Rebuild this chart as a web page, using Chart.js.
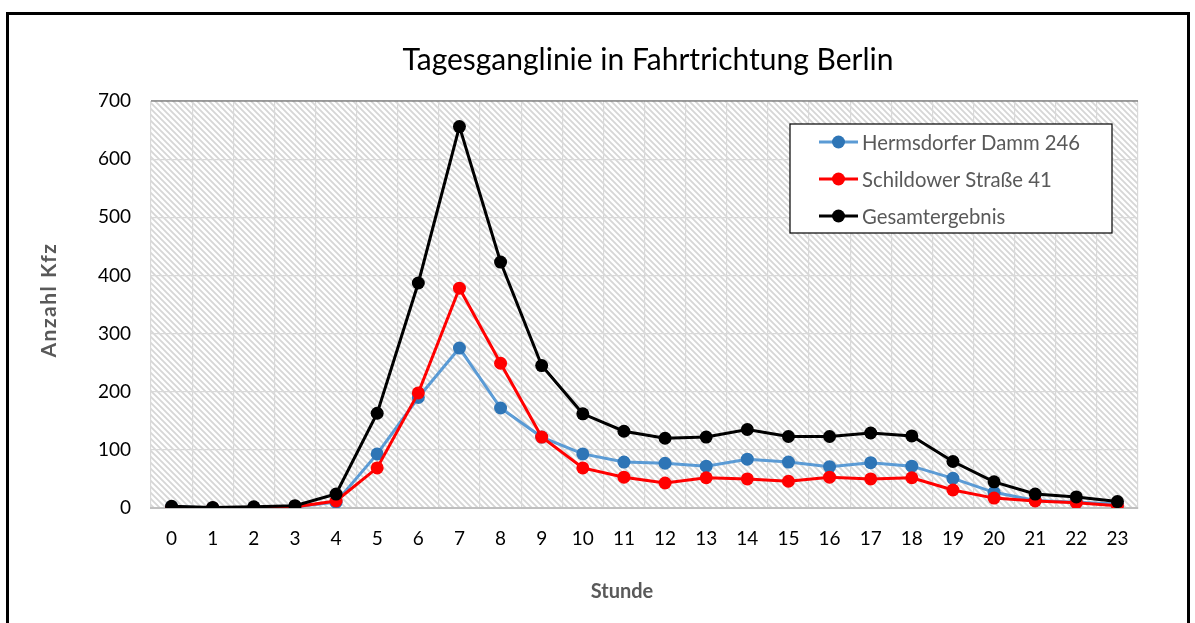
<!DOCTYPE html>
<html><head><meta charset="utf-8">
<script src="https://cdn.jsdelivr.net/npm/chart.js@4/dist/chart.umd.min.js"></script>
<style>html,body{margin:0;padding:0;background:#fff;}#wrap{width:1195px;height:623px;position:relative;}</style>
</head><body><div id="wrap"><canvas id="c" width="1195" height="623"></canvas></div>
<script>
const hours = ['0','1','2','3','4','5','6','7','8','9','10','11','12','13','14','15','16','17','18','19','20','21','22','23'];
const hermsdorfer = [2,0,1,2,10,93,190,275,172,122,93,79,77,72,84,79,71,78,72,51,27,13,10,7];
const schildower = [0,0,0,2,12,69,198,378,249,122,69,53,43,52,50,46,53,50,52,31,17,12,9,4];
const gesamt = [3,1,2,4,24,163,387,656,423,245,162,132,120,122,135,123,123,129,124,80,45,24,19,11];
const seriesNames = ['Hermsdorfer Damm 246','Schildower Straße 41','Gesamtergebnis'];
const yTicks = [0,100,200,300,400,500,600,700];
const titleText = 'Tagesganglinie in Fahrtrichtung Berlin';
const xTitle = 'Stunde';
const yTitle = 'Anzahl Kfz';

const FONT = 'Lato, "Open Sans", sans-serif';

function hatch(ctx){
  const c = document.createElement('canvas'); c.width = 6; c.height = 6;
  const g = c.getContext('2d');
  g.fillStyle = '#fff'; g.fillRect(0,0,6,6);
  g.strokeStyle = '#d6d6d6'; g.lineWidth = 1.8;
  g.beginPath();
  g.moveTo(-1,-1); g.lineTo(7,7);
  g.moveTo(-4,2); g.lineTo(4,10);
  g.moveTo(2,-4); g.lineTo(10,4);
  g.stroke();
  return ctx.createPattern(c,'repeat');
}

const deco = {
  id:'deco',
  beforeDraw(chart){
    const {ctx, chartArea:a} = chart;
    ctx.save();
    ctx.fillStyle = hatch(ctx);
    ctx.fillRect(a.left, a.top, a.right-a.left, a.bottom-a.top);
    ctx.restore();
  },
  afterDatasetsDraw(chart){
    const {ctx, chartArea:a} = chart;
    ctx.save();
    // title
    ctx.fillStyle = '#000'; ctx.font = '30px ' + FONT;
    ctx.textAlign = 'center'; ctx.textBaseline = 'alphabetic';
    ctx.fillText(titleText, 648, 70);
    // top line
    ctx.strokeStyle = '#595959'; ctx.lineWidth = 1.2;
    ctx.beginPath(); ctx.moveTo(a.left, a.top); ctx.lineTo(a.right, a.top); ctx.stroke();
    // legend
    const lx = 790, ly = 124, lw = 322, lh = 109;
    ctx.fillStyle = '#fff'; ctx.fillRect(lx, ly, lw, lh);
    ctx.strokeStyle = '#000'; ctx.lineWidth = 1.2; ctx.strokeRect(lx, ly, lw, lh);
    const rows = [142, 179, 216];
    chart.data.datasets.forEach((ds, i) => {
      const y = rows[i];
      ctx.strokeStyle = ds.borderColor; ctx.lineWidth = 3;
      ctx.beginPath(); ctx.moveTo(819, y); ctx.lineTo(858, y); ctx.stroke();
      ctx.fillStyle = ds.pointBackgroundColor;
      ctx.beginPath(); ctx.arc(838.5, y, 6.5, 0, Math.PI*2); ctx.fill();
      ctx.fillStyle = '#595959'; ctx.font = '20.3px ' + FONT;
      ctx.textAlign = 'left'; ctx.textBaseline = 'middle';
      ctx.fillText(ds.label, 862, y + 1);
    });
    // axis titles
    ctx.fillStyle = '#595959'; ctx.font = 'bold 20px ' + FONT;
    ctx.textAlign = 'center'; ctx.textBaseline = 'middle';
    ctx.fillText(xTitle, 622, 592);
    ctx.save(); ctx.translate(49, 300); ctx.rotate(-Math.PI/2);
    ctx.font = 'bold 21px ' + FONT;
    ctx.letterSpacing = '1.5px';
    ctx.fillText(yTitle, 0, 0); ctx.restore();
    // outer border
    ctx.strokeStyle = '#000'; ctx.lineWidth = 3;
    ctx.strokeRect(7.5, 13.5, 1181, 700);
    ctx.restore();
  }
};

new Chart(document.getElementById('c'), {
  type: 'line',
  data: {
    labels: hours,
    datasets: [
      {label: seriesNames[0], data: hermsdorfer, borderColor:'#5b9bd5', backgroundColor:'#2e75b6', pointBackgroundColor:'#2e75b6', order:3},
      {label: seriesNames[1], data: schildower, borderColor:'#ff0000', backgroundColor:'#ff0000', pointBackgroundColor:'#ff0000', order:2},
      {label: seriesNames[2], data: gesamt, borderColor:'#000000', backgroundColor:'#000000', pointBackgroundColor:'#000000', order:1}
    ].map(d => Object.assign(d, {borderWidth:3, pointRadius:6.5, pointBorderWidth:0, tension:0, fill:false}))
  },
  options: {
    responsive:false, animation:false, devicePixelRatio:1,
    layout:{padding:{left:0, right:57, top:101, bottom:0}},
    plugins:{
      legend:{display:false}, tooltip:{enabled:false}, title:{display:false}
    },
    scales:{
      x:{
        offset:true,
        grid:{offset:true, color:'#d9d9d9', lineWidth:1.2, drawTicks:false},
        border:{display:true, color:'#bfbfbf', width:2},
        ticks:{color:'#000', font:{family:FONT, size:19}, padding:19, maxRotation:0, autoSkip:false},
        afterFit(s){ s.height = 115; }
      },
      y:{
        min:0, max:700,
        afterBuildTicks(s){ s.ticks = yTicks.map(v => ({value:v})); },
        grid:{color:'#d9d9d9', lineWidth:1.2, drawTicks:false},
        border:{display:false},
        ticks:{color:'#000', font:{family:FONT, size:19}, padding:20},
        afterFit(s){ s.width = 151; }
      }
    }
  },
  plugins:[deco]
});
</script></body></html>
